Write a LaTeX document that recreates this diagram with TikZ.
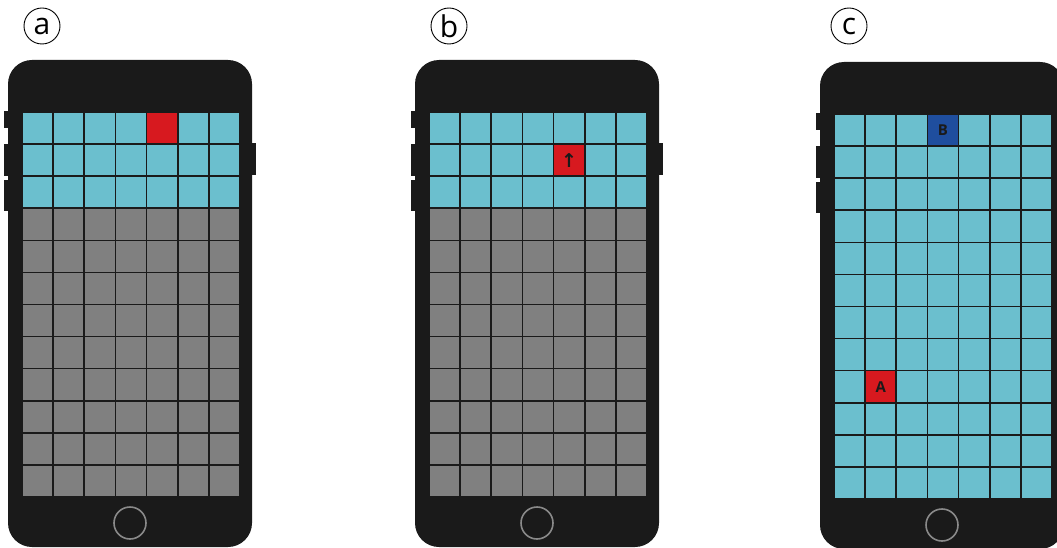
\documentclass[tikz,border=0pt]{standalone}
\usepackage{fontspec}
\newfontfamily\labelfont{Open Sans}
\newfontfamily\symfont{DejaVu Sans}
\definecolor{phoneblack}{HTML}{1A1A1A}
\definecolor{screencyan}{HTML}{6BBFCE}
\definecolor{screengray}{HTML}{808080}
\definecolor{cellred}{HTML}{D7191F}
\definecolor{cellblue}{HTML}{1F4E9E}
\definecolor{homegray}{HTML}{8A8A8A}

\begin{document}
\begin{tikzpicture}[x=1pt, y=-1pt,
    body/.style={fill=phoneblack, rounded corners=24pt},
    sidekey/.style={fill=phoneblack},
    homekey/.style={draw=homegray, line width=1.6pt},
    gridline/.style={draw=phoneblack, line width=1.6pt},
    tag/.style={circle, draw, line width=0.9pt, minimum size=36pt, inner sep=0pt, font=\labelfont\fontsize{30}{30}\selectfont},
    redcell/.style={rectangle, fill=cellred, minimum width=31.14pt, minimum height=32.08pt, inner sep=0pt, font=\labelfont\bfseries\fontsize{15}{15}\selectfont, text=phoneblack},
    bluecell/.style={redcell, fill=cellblue}
]
\useasboundingbox (0,0) rectangle (1057,548);
\clip (0,0) rectangle (1057,548);

% labels
\node[tag] (la) at (42,26) {a};
\node[tag] (lb) at (449,26) {b};
\node[tag] (lc) at (849,26) {c};

% three phones
\foreach \sx/\sy/\kind in {0/0/1, 407/0/2, 812/2/3} {
\begin{scope}[shift={(\sx,\sy)}]
  % body and keys
  \fill[sidekey] (4,111) rectangle (9,128);
  \fill[sidekey] (4,144) rectangle (9,176);
  \fill[sidekey] (4,180) rectangle (9,211);
  \fill[sidekey] (251,143) rectangle (256,175);
  \fill[body] (8,60) rectangle (252,547);
  \draw[homekey] (130,523) circle (16);
  % screen
  \fill[screencyan] (22,112) rectangle (240,497);
  \ifnum\kind<3
    \fill[screengray] (22,208.24) rectangle (240,497);
  \fi
\end{scope}
}

% marked cells
\node[redcell] (ca) at (162.1,128.0) {};
\node[redcell] (cb) at (569.1,160.1) {\symfont\bfseries\fontsize{19}{19}\selectfont ↑};
\node[redcell] (cA) at (880.7,386.7) {A};
\node[bluecell] (cB) at (943.0,130.0) {B};

% grid lines
\foreach \sx/\sy in {0/0, 407/0, 812/2} {
\begin{scope}[shift={(\sx,\sy)}]
  \foreach \i in {0,...,7}
    \draw[gridline] (22+\i*31.14,112) -- (22+\i*31.14,497);
  \foreach \j in {0,...,12}
    \draw[gridline] (22,112+\j*32.08) -- (240,112+\j*32.08);
\end{scope}
}
\end{tikzpicture}
\end{document}
